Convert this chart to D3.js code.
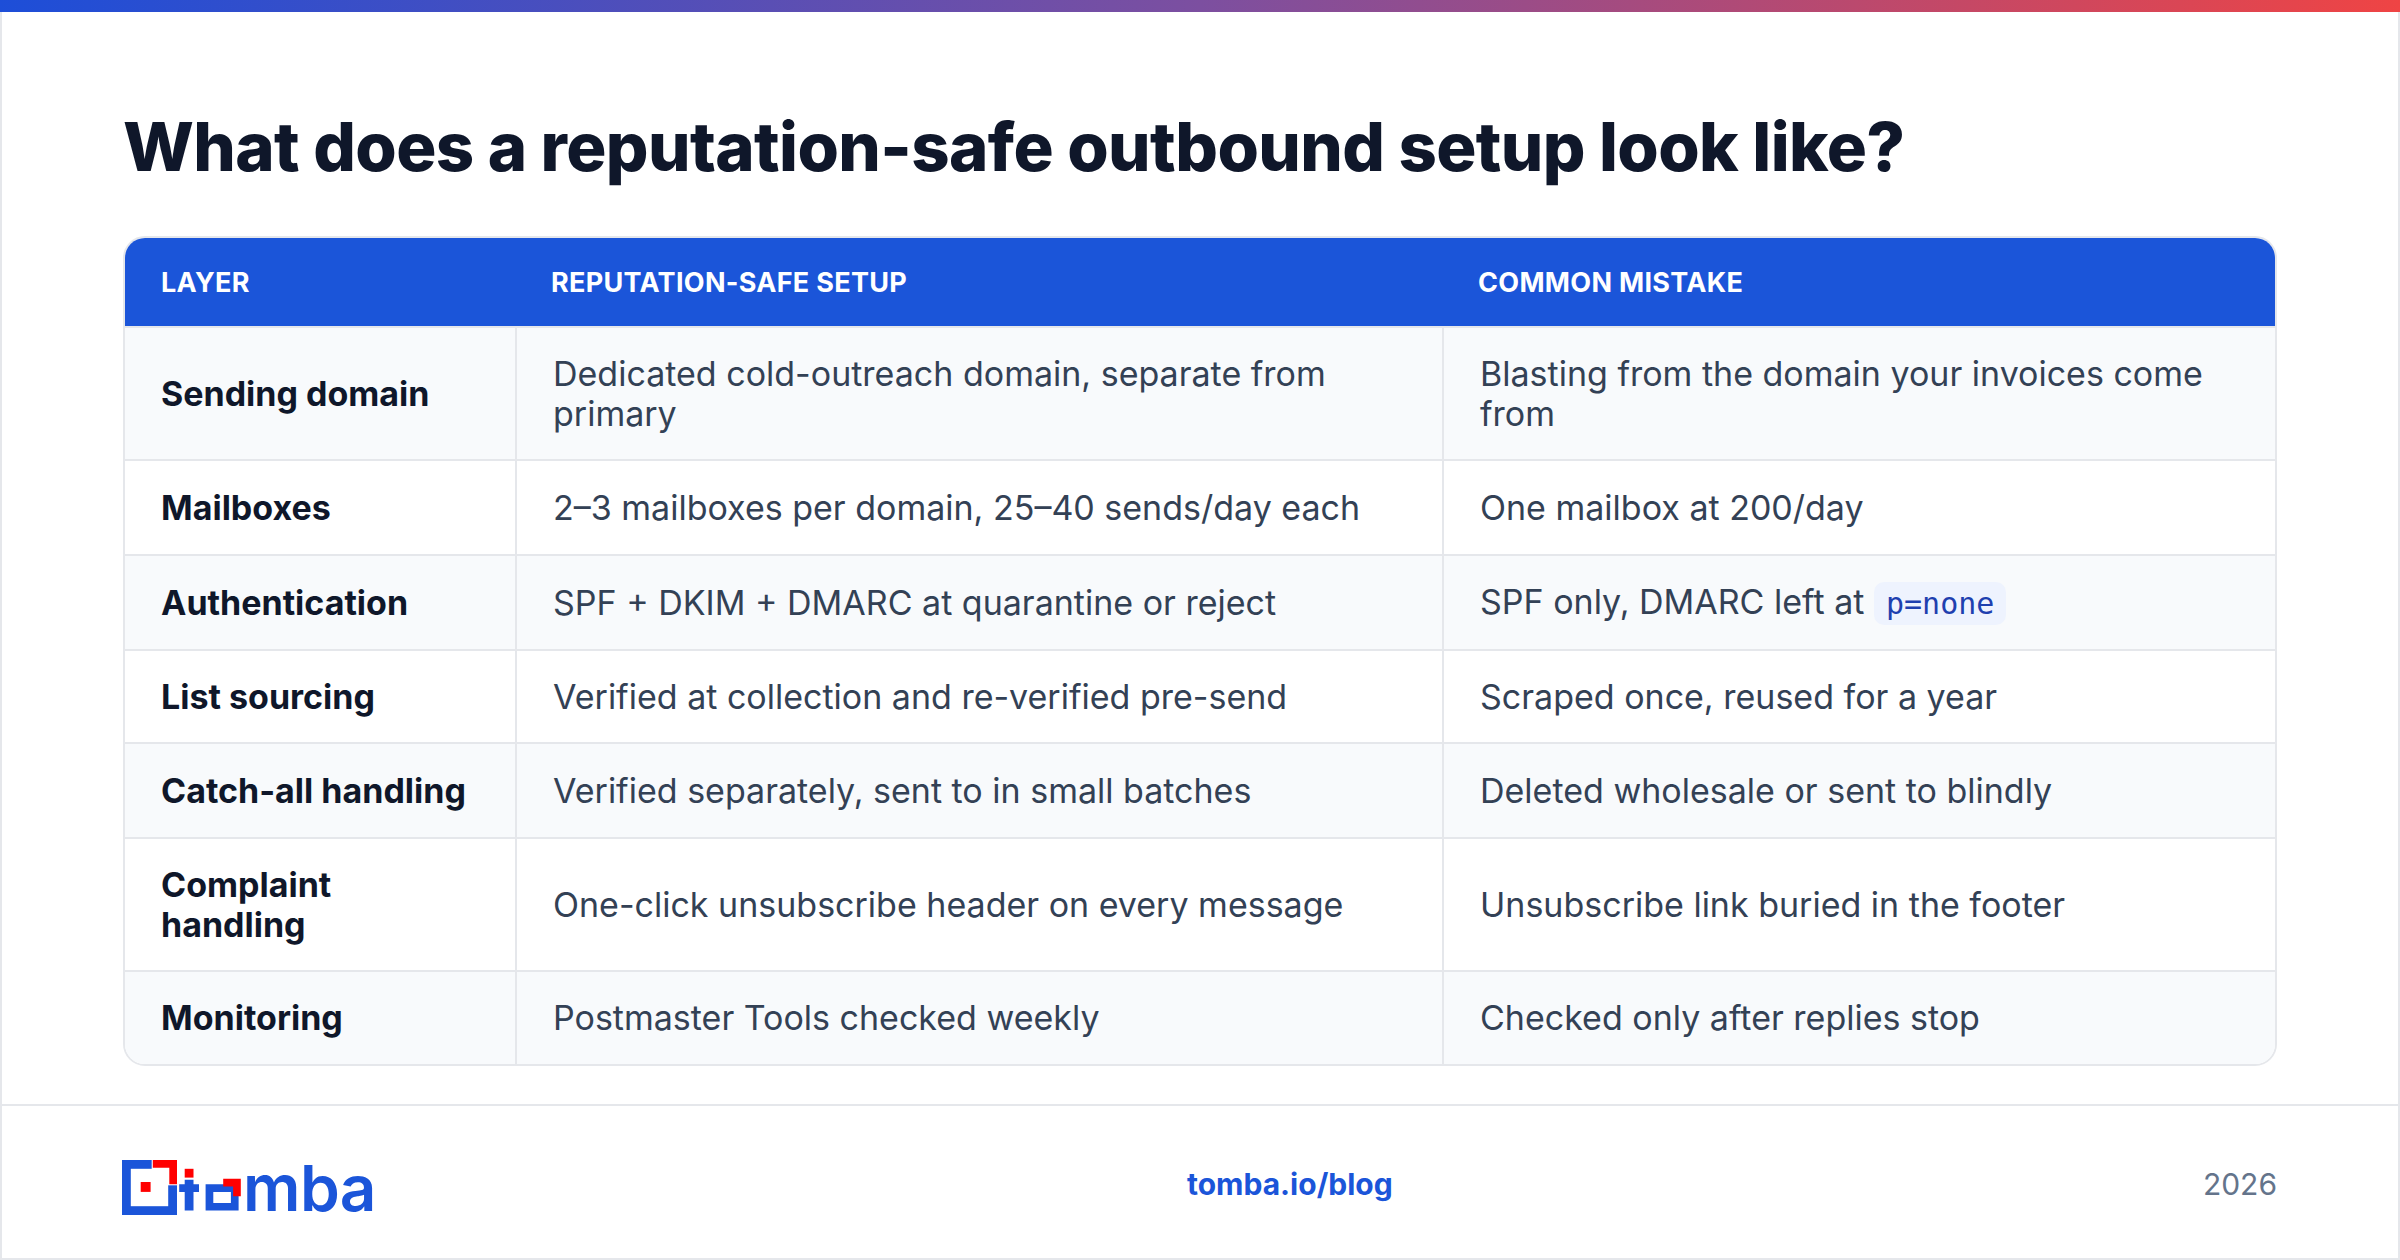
<!DOCTYPE html>
<html><head><meta charset="utf-8">
<script src="https://cdn.jsdelivr.net/npm/d3@7"></script>
<style>
body{margin:0;width:2400px;height:1260px;background:#fff;font-family:Inter,sans-serif;overflow:hidden;position:relative}
.frame{position:absolute;inset:0;border:2px solid #e5e7eb;box-sizing:border-box}
.bar{position:absolute;left:0;top:0;width:2400px;height:12px;background:linear-gradient(90deg,#1d4ed8,#7c4fa0 50%,#ef4444)}
h1{position:absolute;left:123px;top:106px;margin:0;font-size:67px;font-weight:800;color:#0f172a;letter-spacing:-0.6px}
table{position:absolute;left:123px;top:236px;width:2154px;box-sizing:border-box;table-layout:fixed;border-collapse:separate;border-spacing:0;border:2px solid #e5e7eb;border-radius:22px;overflow:hidden}
th,td{box-sizing:border-box}
th{background:#1b55d9;color:#fff;text-align:left;font-size:27px;font-weight:700;height:88px;padding:0 36px;letter-spacing:.3px}
td{font-size:34px;color:#334155;padding:0 36px;border-top:2px solid #e5e7eb;line-height:40px}
td+td{border-left:2px solid #e5e7eb}
td.l{font-weight:700;color:#0f172a}
tr:nth-child(even) td{background:#f8fafc}
code{font-family:"DejaVu Sans Mono",monospace;font-size:30px;background:#eef3fe;color:#1e40af;padding:4px 12px;border-radius:10px}
.foot{position:absolute;left:0;top:1104px;width:2400px;border-top:2px solid #e5e7eb}
.url{position:absolute;left:1187px;top:1166px;font-size:30px;font-weight:700;color:#1b55d9}
.yr{position:absolute;right:123px;top:1166px;font-size:30px;color:#64748b}
</style></head><body>
<div class="frame"></div><div class="bar"></div>
<h1>What does a reputation-safe outbound setup look like?</h1>
<table id="t"></table>
<div class="foot"></div>
<svg id="logo" style="position:absolute;left:120px;top:1150px" width="300" height="90"></svg>
<div class="url">tomba.io/blog</div><div class="yr">2026</div>
<script>
const headers = ['LAYER', 'REPUTATION-SAFE SETUP', 'COMMON MISTAKE'];
const layers = ['Sending domain', 'Mailboxes', 'Authentication', 'List sourcing', 'Catch-all handling', 'Complaint handling', 'Monitoring'];
const safeSetup = [
	'Dedicated cold-outreach domain, separate from primary',
	'2–3 mailboxes per domain, 25–40 sends/day each',
	'SPF + DKIM + DMARC at quarantine or reject',
	'Verified at collection and re-verified pre-send',
	'Verified separately, sent to in small batches',
	'One-click unsubscribe header on every message',
	'Postmaster Tools checked weekly'
];
const mistakes = [
	'Blasting from the domain your invoices come from',
	'One mailbox at 200/day',
	'SPF only, DMARC left at <code>p=none</code>',
	'Scraped once, reused for a year',
	'Deleted wholesale or sent to blindly',
	'Unsubscribe link buried in the footer',
	'Checked only after replies stop'
];
const rowHeights = [133, 95, 95, 93, 95, 133, 94];
const colWidths = [390, 927, 833];

const table = d3.select('#t');
table.append('tr').selectAll('th').data(headers).join('th')
	.style('width', (d, i) => colWidths[i] + 'px').text((d) => d);

table.selectAll('tr.r').data(layers).join('tr').attr('class', 'r')
	.style('height', (d, i) => rowHeights[i] + 'px')
	.each(function (d, i) {
		const tr = d3.select(this);
		tr.append('td').attr('class', 'l').text(d);
		tr.append('td').text(safeSetup[i]);
		tr.append('td').html(mistakes[i]);
	});

// logo
const logo = d3.select('#logo').append('g').attr('transform', 'translate(2,10) scale(1.1)');
logo.append('rect').attr('x', 4).attr('y', 4).attr('width', 42).attr('height', 42).attr('fill', 'none').attr('stroke', '#1b55d9').attr('stroke-width', 8);
logo.append('rect').attr('x', 27).attr('y', 0).attr('width', 23).attr('height', 23).attr('fill', '#fff');
logo.append('path').attr('d', 'M28 0H50V22H43V7H28Z').attr('fill', '#f00');
logo.append('rect').attr('x', 17).attr('y', 20).attr('width', 9).attr('height', 9).attr('fill', '#f00');
logo.append('rect').attr('x', 57).attr('y', 8).attr('width', 8).attr('height', 8).attr('fill', '#f00');
logo.append('path').attr('d', 'M57 18h8v28h-8zM52 22h18v7H52z').attr('fill', '#1b55d9');
logo.append('path').attr('d', 'M76 22h30v24H76zM83 29v10h16V29z').attr('fill', '#1b55d9').attr('fill-rule', 'evenodd');
logo.append('path').attr('d', 'M92 17h16v16h-7V24H92z').attr('fill', '#f00');
logo.append('text').attr('x', 110).attr('y', 46).attr('font-size', 58).attr('font-weight', 600)
	.attr('fill', '#1b55d9').attr('font-family', 'Inter, sans-serif').attr('letter-spacing', -0.5).text('mba');
</script>
</body></html>
